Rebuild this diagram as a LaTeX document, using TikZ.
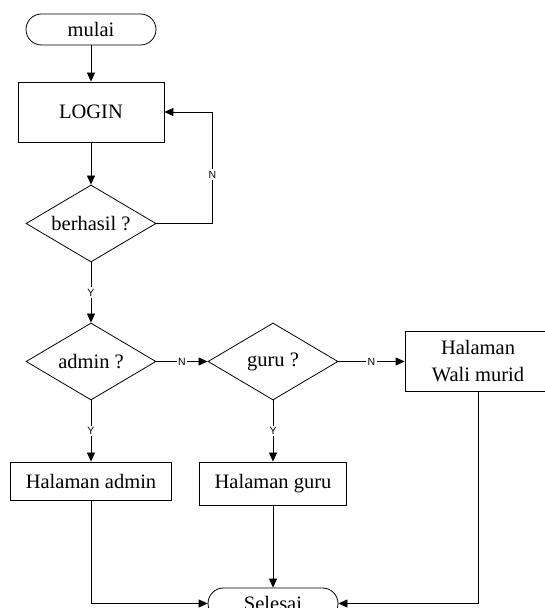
\documentclass[tikz,border=0pt]{standalone}
\usepackage{fontspec}
\setmainfont{Liberation Serif}
\newfontfamily\labelfont{Liberation Sans}
\usetikzlibrary{shapes.geometric,arrows.meta}

\begin{document}
\begin{tikzpicture}[x=1pt,y=1pt,line width=0.8pt,
    font=\fontsize{20.5}{27}\selectfont,
    terminal/.style={draw,rounded corners=15.5pt,minimum width=130pt,minimum height=31pt,inner sep=0pt},
    proses/.style={draw,minimum width=146pt,minimum height=60pt,inner sep=0pt,align=center},
    halaman/.style={draw,minimum height=38pt,inner xsep=15pt,inner ysep=0pt},
    cek/.style={draw,diamond,aspect=1.69,minimum width=130pt,minimum height=77pt,inner sep=0pt},
    alur/.style={-{Triangle[length=9pt,width=8pt]}},
    ket/.style={fill=white,inner sep=1.5pt,font=\labelfont\fontsize{10.5}{12}\selectfont}]
  \useasboundingbox (0,0) rectangle (545,608);
  \node[terminal] (mulai) at (91,578.5) {mulai};
  \node[proses] (login) at (91,496) {LOGIN};
  \node[cek] (berhasil) at (91,384.5) {berhasil ?};
  \node[cek] (admin) at (91,246.5) {admin ?};
  \node[cek] (guru) at (273,246.5) {guru ?};
  \node[proses] (wali) at (478,246.5) {Halaman\\Wali murid};
  \node[halaman] (hadmin) at (91,127) {Halaman admin};
  \node[halaman,minimum height=43pt] (hguru) at (273,124.5) {Halaman guru};
  \node[terminal] (selesai) at (273,4.5) {Selesai};
  \draw[alur] (mulai) -- (login);
  \draw[alur] (login) -- (berhasil);
  \draw[alur] (berhasil.east) -- ++(56,0) |- node[ket,pos=0.22] {N} (login.east);
  \draw[alur] (berhasil) -- node[ket] {Y} (admin);
  \draw[alur] (admin) -- node[ket] {N} (guru);
  \draw[alur] (guru) -- node[ket] {N} (wali);
  \draw[alur] (admin) -- node[ket] {Y} (hadmin);
  \draw[alur] (guru) -- node[ket] {Y} (hguru);
  \draw[alur] (hadmin) |- (selesai);
  \draw[alur] (hguru) -- (selesai);
  \draw[alur] (wali) |- (selesai);
\end{tikzpicture}
\end{document}
